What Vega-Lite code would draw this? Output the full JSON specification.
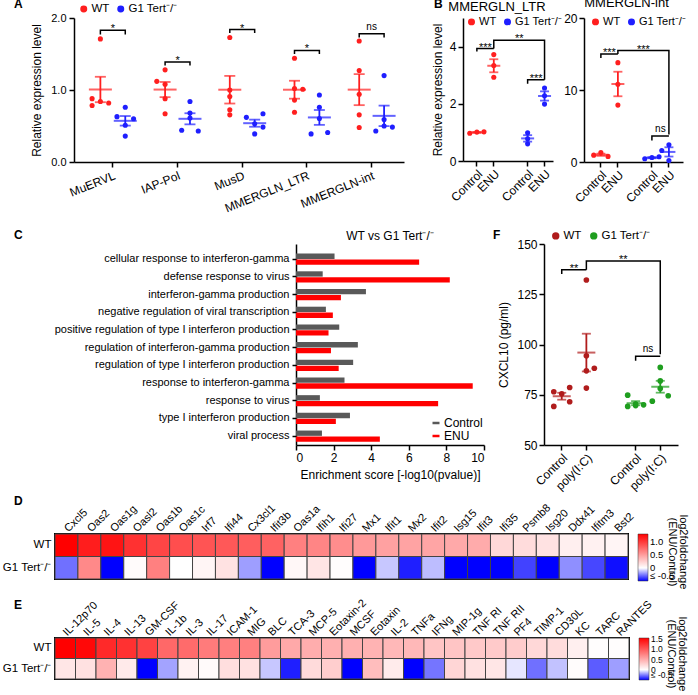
{
"$schema":"https://vega.github.io/schema/vega-lite/v6.json",
"background":"white",
"padding":{"left":1,"top":-3,"right":0,"bottom":0},
"config":{
 "font":"Liberation Sans",
 "view":{"stroke":null},
 "axis":{"grid":false,"domainColor":"black","tickColor":"black","labelColor":"black","titleColor":"black","labelFont":"Liberation Sans","titleFont":"Liberation Sans","labelFontSize":11,"titleFontSize":12,"titleFontWeight":"normal","domainWidth":1.5,"tickWidth":1.5,"tickSize":4,"labelPadding":2,"titlePadding":5},
 "legend":{"labelFont":"Liberation Sans","titleFont":"Liberation Sans","labelColor":"black","titleColor":"black","labelOverlap":false},
 "title":{"font":"Liberation Sans","fontSize":12,"fontWeight":"bold","color":"black","anchor":"start","baseline":"alphabetic","frame":"group"}
},
"datasets":{
 "A":[
  {"te":"MuERVL","grp":"WT","slot":"WT-C","v":1.71},{"te":"MuERVL","grp":"WT","slot":"WT-L","v":0.88},{"te":"MuERVL","grp":"WT","slot":"WT-C","v":0.84},{"te":"MuERVL","grp":"WT","slot":"WT-R","v":0.82},{"te":"MuERVL","grp":"WT","slot":"WT-L","v":0.785},
  {"te":"MuERVL","grp":"G1 Tert⁻/⁻","slot":"G1-C","v":0.76},{"te":"MuERVL","grp":"G1 Tert⁻/⁻","slot":"G1-L","v":0.63},{"te":"MuERVL","grp":"G1 Tert⁻/⁻","slot":"G1-R","v":0.6},{"te":"MuERVL","grp":"G1 Tert⁻/⁻","slot":"G1-C","v":0.51},{"te":"MuERVL","grp":"G1 Tert⁻/⁻","slot":"G1-C","v":0.36},
  {"te":"IAP-Pol","grp":"WT","slot":"WT-C","v":1.28},{"te":"IAP-Pol","grp":"WT","slot":"WT-L","v":1.12},{"te":"IAP-Pol","grp":"WT","slot":"WT-C","v":1.08},{"te":"IAP-Pol","grp":"WT","slot":"WT-C","v":0.88},{"te":"IAP-Pol","grp":"WT","slot":"WT-C","v":0.67},
  {"te":"IAP-Pol","grp":"G1 Tert⁻/⁻","slot":"G1-C","v":0.84},{"te":"IAP-Pol","grp":"G1 Tert⁻/⁻","slot":"G1-C","v":0.68},{"te":"IAP-Pol","grp":"G1 Tert⁻/⁻","slot":"G1-C","v":0.61},{"te":"IAP-Pol","grp":"G1 Tert⁻/⁻","slot":"G1-L","v":0.44},{"te":"IAP-Pol","grp":"G1 Tert⁻/⁻","slot":"G1-R","v":0.43},
  {"te":"MusD","grp":"WT","slot":"WT-C","v":1.73},{"te":"MusD","grp":"WT","slot":"WT-C","v":1.0},{"te":"MusD","grp":"WT","slot":"WT-C","v":0.91},{"te":"MusD","grp":"WT","slot":"WT-C","v":0.725},{"te":"MusD","grp":"WT","slot":"WT-C","v":0.655},
  {"te":"MusD","grp":"G1 Tert⁻/⁻","slot":"G1-R","v":0.67},{"te":"MusD","grp":"G1 Tert⁻/⁻","slot":"G1-L","v":0.62},{"te":"MusD","grp":"G1 Tert⁻/⁻","slot":"G1-C","v":0.53},{"te":"MusD","grp":"G1 Tert⁻/⁻","slot":"G1-R","v":0.485},{"te":"MusD","grp":"G1 Tert⁻/⁻","slot":"G1-C","v":0.39},
  {"te":"MMERGLN_LTR","grp":"WT","slot":"WT-C","v":1.44},{"te":"MMERGLN_LTR","grp":"WT","slot":"WT-C","v":1.02},{"te":"MMERGLN_LTR","grp":"WT","slot":"WT-R","v":1.01},{"te":"MMERGLN_LTR","grp":"WT","slot":"WT-C","v":0.86},{"te":"MMERGLN_LTR","grp":"WT","slot":"WT-C","v":0.69},
  {"te":"MMERGLN_LTR","grp":"G1 Tert⁻/⁻","slot":"G1-C","v":0.93},{"te":"MMERGLN_LTR","grp":"G1 Tert⁻/⁻","slot":"G1-C","v":0.76},{"te":"MMERGLN_LTR","grp":"G1 Tert⁻/⁻","slot":"G1-C","v":0.605},{"te":"MMERGLN_LTR","grp":"G1 Tert⁻/⁻","slot":"G1-L","v":0.39},{"te":"MMERGLN_LTR","grp":"G1 Tert⁻/⁻","slot":"G1-R","v":0.41},
  {"te":"MMERGLN-int","grp":"WT","slot":"WT-C","v":1.68},{"te":"MMERGLN-int","grp":"WT","slot":"WT-C","v":1.27},{"te":"MMERGLN-int","grp":"WT","slot":"WT-C","v":0.94},{"te":"MMERGLN-int","grp":"WT","slot":"WT-C","v":0.655},{"te":"MMERGLN-int","grp":"WT","slot":"WT-C","v":0.48},
  {"te":"MMERGLN-int","grp":"G1 Tert⁻/⁻","slot":"G1-C","v":1.2},{"te":"MMERGLN-int","grp":"G1 Tert⁻/⁻","slot":"G1-C","v":0.59},{"te":"MMERGLN-int","grp":"G1 Tert⁻/⁻","slot":"G1-C","v":0.5},{"te":"MMERGLN-int","grp":"G1 Tert⁻/⁻","slot":"G1-L","v":0.43},{"te":"MMERGLN-int","grp":"G1 Tert⁻/⁻","slot":"G1-R","v":0.485}
 ],
 "Abr":[
  {"id":"a1","te":"MuERVL","slot":"WT-C","y":1.77,"o":1},{"id":"a1","te":"MuERVL","slot":"WT-C","y":1.83,"o":2},{"id":"a1","te":"MuERVL","slot":"G1-C","y":1.83,"o":3},{"id":"a1","te":"MuERVL","slot":"G1-C","y":1.77,"o":4},
  {"id":"a2","te":"IAP-Pol","slot":"WT-C","y":1.34,"o":1},{"id":"a2","te":"IAP-Pol","slot":"WT-C","y":1.39,"o":2},{"id":"a2","te":"IAP-Pol","slot":"G1-C","y":1.39,"o":3},{"id":"a2","te":"IAP-Pol","slot":"G1-C","y":1.34,"o":4},
  {"id":"a3","te":"MusD","slot":"WT-C","y":1.79,"o":1},{"id":"a3","te":"MusD","slot":"WT-C","y":1.84,"o":2},{"id":"a3","te":"MusD","slot":"G1-C","y":1.84,"o":3},{"id":"a3","te":"MusD","slot":"G1-C","y":1.79,"o":4},
  {"id":"a4","te":"MMERGLN_LTR","slot":"WT-C","y":1.5,"o":1},{"id":"a4","te":"MMERGLN_LTR","slot":"WT-C","y":1.55,"o":2},{"id":"a4","te":"MMERGLN_LTR","slot":"G1-C","y":1.55,"o":3},{"id":"a4","te":"MMERGLN_LTR","slot":"G1-C","y":1.5,"o":4},
  {"id":"a5","te":"MMERGLN-int","slot":"WT-C","y":1.73,"o":1},{"id":"a5","te":"MMERGLN-int","slot":"WT-C","y":1.78,"o":2},{"id":"a5","te":"MMERGLN-int","slot":"G1-C","y":1.78,"o":3},{"id":"a5","te":"MMERGLN-int","slot":"G1-C","y":1.73,"o":4}
 ],
 "Atx":[
  {"te":"MuERVL","lab":"*","y":1.83},{"te":"IAP-Pol","lab":"*","y":1.39},{"te":"MusD","lab":"*","y":1.84},{"te":"MMERGLN_LTR","lab":"*","y":1.55},{"te":"MMERGLN-int","lab":"ns","y":1.8}
 ],
 "B1":[
  {"cond":"WT|Control","grp":"WT","slot":"L","v":0.97},{"cond":"WT|Control","grp":"WT","slot":"C","v":1.01},{"cond":"WT|Control","grp":"WT","slot":"R","v":1.02},
  {"cond":"WT|ENU","grp":"WT","slot":"C","v":3.72},{"cond":"WT|ENU","grp":"WT","slot":"C","v":3.34},{"cond":"WT|ENU","grp":"WT","slot":"C","v":2.93},
  {"cond":"G1|Control","grp":"G1 Tert⁻/⁻","slot":"C","v":0.99},{"cond":"G1|Control","grp":"G1 Tert⁻/⁻","slot":"C","v":0.78},{"cond":"G1|Control","grp":"G1 Tert⁻/⁻","slot":"C","v":0.6},
  {"cond":"G1|ENU","grp":"G1 Tert⁻/⁻","slot":"C","v":2.55},{"cond":"G1|ENU","grp":"G1 Tert⁻/⁻","slot":"C","v":2.28},{"cond":"G1|ENU","grp":"G1 Tert⁻/⁻","slot":"C","v":1.99}
 ],
 "B1br":[
  {"id":"b1","cond":"WT|Control","y":3.83,"o":1},{"id":"b1","cond":"WT|Control","y":3.93,"o":2},{"id":"b1","cond":"WT|ENU","y":3.93,"o":3},
  {"id":"b2","cond":"WT|ENU","y":3.93,"o":1},{"id":"b2","cond":"WT|ENU","y":4.22,"o":2},{"id":"b2","cond":"G1|ENU","y":4.22,"o":3},{"id":"b2","cond":"G1|ENU","y":2.84,"o":4},
  {"id":"b3","cond":"G1|Control","y":2.7,"o":1},{"id":"b3","cond":"G1|Control","y":2.84,"o":2},{"id":"b3","cond":"G1|ENU","y":2.84,"o":3}
 ],
 "B1tx":[
  {"cond":"WT|Control","lab":"***","y":3.93},{"cond":"gap","lab":"**","y":4.22},{"cond":"G1|Control","lab":"***","y":2.84}
 ],
 "B2":[
  {"cond":"WT|Control","grp":"WT","slot":"C","v":1.32},{"cond":"WT|Control","grp":"WT","slot":"L","v":0.95},{"cond":"WT|Control","grp":"WT","slot":"R","v":0.78},
  {"cond":"WT|ENU","grp":"WT","slot":"C","v":13.8},{"cond":"WT|ENU","grp":"WT","slot":"C","v":10.8},{"cond":"WT|ENU","grp":"WT","slot":"C","v":7.9},
  {"cond":"G1|Control","grp":"G1 Tert⁻/⁻","slot":"R","v":0.72},{"cond":"G1|Control","grp":"G1 Tert⁻/⁻","slot":"C","v":0.62},{"cond":"G1|Control","grp":"G1 Tert⁻/⁻","slot":"L","v":0.45},
  {"cond":"G1|ENU","grp":"G1 Tert⁻/⁻","slot":"C","v":2.4},{"cond":"G1|ENU","grp":"G1 Tert⁻/⁻","slot":"L","v":1.6},{"cond":"G1|ENU","grp":"G1 Tert⁻/⁻","slot":"C","v":0.2}
 ],
 "B2br":[
  {"id":"c1","cond":"WT|Control","y":14.46,"o":1},{"id":"c1","cond":"WT|Control","y":15.0,"o":2},{"id":"c1","cond":"WT|ENU","y":15.0,"o":3},
  {"id":"c2","cond":"WT|ENU","y":15.0,"o":1},{"id":"c2","cond":"WT|ENU","y":15.47,"o":2},{"id":"c2","cond":"G1|ENU","y":15.47,"o":3},{"id":"c2","cond":"G1|ENU","y":3.83,"o":4},
  {"id":"c3","cond":"G1|Control","y":3.0,"o":1},{"id":"c3","cond":"G1|Control","y":3.6,"o":2},{"id":"c3","cond":"G1|ENU","y":3.6,"o":3}
 ],
 "B2tx":[
  {"cond":"WT|Control","lab":"***","y":15.0},{"cond":"gap","lab":"***","y":15.47},{"cond":"G1|Control","lab":"ns","y":4.0}
 ],
 "C":[
  {"term":"cellular response to interferon-gamma","s":"Control","v":2.05},{"term":"cellular response to interferon-gamma","s":"ENU","v":6.55},
  {"term":"defense response to virus","s":"Control","v":1.42},{"term":"defense response to virus","s":"ENU","v":8.18},
  {"term":"interferon-gamma production","s":"Control","v":3.72},{"term":"interferon-gamma production","s":"ENU","v":2.39},
  {"term":"negative regulation of viral transcription","s":"Control","v":1.59},{"term":"negative regulation of viral transcription","s":"ENU","v":1.96},
  {"term":"positive regulation of type I interferon production","s":"Control","v":2.3},{"term":"positive regulation of type I interferon production","s":"ENU","v":1.73},
  {"term":"regulation of interferon-gamma production","s":"Control","v":3.29},{"term":"regulation of interferon-gamma production","s":"ENU","v":1.86},
  {"term":"regulation of type I interferon production","s":"Control","v":3.04},{"term":"regulation of type I interferon production","s":"ENU","v":2.27},
  {"term":"response to interferon-gamma","s":"Control","v":2.58},{"term":"response to interferon-gamma","s":"ENU","v":9.4},
  {"term":"response to virus","s":"Control","v":1.27},{"term":"response to virus","s":"ENU","v":7.56},
  {"term":"type I interferon production","s":"Control","v":2.87},{"term":"type I interferon production","s":"ENU","v":2.12},
  {"term":"viral process","s":"Control","v":1.38},{"term":"viral process","s":"ENU","v":4.46}
 ],
 "F":[
  {"cond":"WT|Control","grp":"WT","slot":"L","v":76.5},{"cond":"WT|Control","grp":"WT","slot":"R","v":78.6},{"cond":"WT|Control","grp":"WT","slot":"L","v":69.2},{"cond":"WT|Control","grp":"WT","slot":"R","v":71.5},{"cond":"WT|Control","grp":"WT","slot":"C","v":75.5},
  {"cond":"WT|poly","grp":"WT","slot":"C","v":132.1},{"cond":"WT|poly","grp":"WT","slot":"C","v":94.4},{"cond":"WT|poly","grp":"WT","slot":"R","v":88.2},{"cond":"WT|poly","grp":"WT","slot":"C","v":86.9},{"cond":"WT|poly","grp":"WT","slot":"C","v":78.3},
  {"cond":"G1|Control","grp":"G1 Tert⁻/⁻","slot":"L","v":74.8},{"cond":"G1|Control","grp":"G1 Tert⁻/⁻","slot":"L","v":69.2},{"cond":"G1|Control","grp":"G1 Tert⁻/⁻","slot":"C","v":70.4},{"cond":"G1|Control","grp":"G1 Tert⁻/⁻","slot":"R","v":70.0},{"cond":"G1|Control","grp":"G1 Tert⁻/⁻","slot":"C","v":69.6},
  {"cond":"G1|poly","grp":"G1 Tert⁻/⁻","slot":"C","v":88.6},{"cond":"G1|poly","grp":"G1 Tert⁻/⁻","slot":"C","v":81.9},{"cond":"G1|poly","grp":"G1 Tert⁻/⁻","slot":"C","v":78.1},{"cond":"G1|poly","grp":"G1 Tert⁻/⁻","slot":"L","v":71.8},{"cond":"G1|poly","grp":"G1 Tert⁻/⁻","slot":"R","v":74.5}
 ],
 "Fbr":[
  {"id":"f1","cond":"WT|Control","y":135.1,"o":1},{"id":"f1","cond":"WT|Control","y":137.2,"o":2},{"id":"f1","cond":"WT|poly","y":137.2,"o":3},
  {"id":"f2","cond":"WT|poly","y":137.2,"o":1},{"id":"f2","cond":"WT|poly","y":141.6,"o":2},{"id":"f2","cond":"G1|poly","y":141.6,"o":3},{"id":"f2","cond":"G1|poly","y":95.2,"o":4},
  {"id":"f3","cond":"G1|Control","y":91.9,"o":1},{"id":"f3","cond":"G1|Control","y":94.2,"o":2},{"id":"f3","cond":"G1|poly","y":94.2,"o":3}
 ],
 "Ftx":[
  {"cond":"WT|Control","lab":"**","y":137.2},{"cond":"gap","lab":"**","y":141.6},{"cond":"G1|Control","lab":"ns","y":95.6}
 ],
 "D":[
  {"g":"Cxcl5","r":"WT","v":1.3},{"g":"Oas2","r":"WT","v":1.15},{"g":"Oas1g","r":"WT","v":1.2},{"g":"Oasl2","r":"WT","v":1.05},{"g":"Oas1b","r":"WT","v":0.95},{"g":"Oas1c","r":"WT","v":0.9},{"g":"Irf7","r":"WT","v":0.87},{"g":"Ifi44","r":"WT","v":0.85},{"g":"Cx3cl1","r":"WT","v":0.82},{"g":"Ifit3b","r":"WT","v":0.8},{"g":"Oas1a","r":"WT","v":0.65},{"g":"Ifih1","r":"WT","v":0.62},{"g":"Ifi27","r":"WT","v":0.58},{"g":"Mx1","r":"WT","v":0.52},{"g":"Ifit1","r":"WT","v":0.48},{"g":"Mx2","r":"WT","v":0.47},{"g":"Ifit2","r":"WT","v":0.46},{"g":"Isg15","r":"WT","v":0.44},{"g":"Ifit3","r":"WT","v":0.43},{"g":"Ifi35","r":"WT","v":0.2},{"g":"Psmb8","r":"WT","v":0.18},{"g":"Isg20","r":"WT","v":0.15},{"g":"Ddx41","r":"WT","v":0.08},{"g":"Ifitm3","r":"WT","v":0.07},{"g":"Bst2","r":"WT","v":0.05},
  {"g":"Cxcl5","r":"G1 Tert⁻/⁻","v":-0.28},{"g":"Oas2","r":"G1 Tert⁻/⁻","v":0.6},{"g":"Oas1g","r":"G1 Tert⁻/⁻","v":-0.5},{"g":"Oasl2","r":"G1 Tert⁻/⁻","v":0.02},{"g":"Oas1b","r":"G1 Tert⁻/⁻","v":0.65},{"g":"Oas1c","r":"G1 Tert⁻/⁻","v":0.0},{"g":"Irf7","r":"G1 Tert⁻/⁻","v":0.05},{"g":"Ifi44","r":"G1 Tert⁻/⁻","v":0.15},{"g":"Cx3cl1","r":"G1 Tert⁻/⁻","v":-0.19},{"g":"Ifit3b","r":"G1 Tert⁻/⁻","v":-0.5},{"g":"Oas1a","r":"G1 Tert⁻/⁻","v":0.04},{"g":"Ifih1","r":"G1 Tert⁻/⁻","v":0.13},{"g":"Ifi27","r":"G1 Tert⁻/⁻","v":0.01},{"g":"Mx1","r":"G1 Tert⁻/⁻","v":-0.5},{"g":"Ifit1","r":"G1 Tert⁻/⁻","v":-0.11},{"g":"Mx2","r":"G1 Tert⁻/⁻","v":-0.44},{"g":"Ifit2","r":"G1 Tert⁻/⁻","v":-0.13},{"g":"Isg15","r":"G1 Tert⁻/⁻","v":-0.5},{"g":"Ifit3","r":"G1 Tert⁻/⁻","v":-0.5},{"g":"Ifi35","r":"G1 Tert⁻/⁻","v":-0.5},{"g":"Psmb8","r":"G1 Tert⁻/⁻","v":-0.37},{"g":"Isg20","r":"G1 Tert⁻/⁻","v":-0.5},{"g":"Ddx41","r":"G1 Tert⁻/⁻","v":-0.22},{"g":"Ifitm3","r":"G1 Tert⁻/⁻","v":-0.36},{"g":"Bst2","r":"G1 Tert⁻/⁻","v":-0.47}
 ],
 "E":[
  {"g":"IL-12p70","r":"WT","v":1.55},{"g":"IL-5","r":"WT","v":1.5},{"g":"IL-4","r":"WT","v":1.3},{"g":"IL-13","r":"WT","v":1.25},{"g":"GM-CSF","r":"WT","v":1.15},{"g":"IL-1b","r":"WT","v":0.92},{"g":"IL-3","r":"WT","v":0.9},{"g":"IL-17","r":"WT","v":0.8},{"g":"ICAM-1","r":"WT","v":0.78},{"g":"MIG","r":"WT","v":0.77},{"g":"BLC","r":"WT","v":0.6},{"g":"TCA-3","r":"WT","v":0.52},{"g":"MCP-5","r":"WT","v":0.5},{"g":"Eotaxin-2","r":"WT","v":0.48},{"g":"MCSF","r":"WT","v":0.48},{"g":"Eotaxin","r":"WT","v":0.46},{"g":"IL-2","r":"WT","v":0.43},{"g":"TNFa","r":"WT","v":0.43},{"g":"IFNg","r":"WT","v":0.35},{"g":"MIP-1g","r":"WT","v":0.35},{"g":"TNF RI","r":"WT","v":0.33},{"g":"TNF RII","r":"WT","v":0.32},{"g":"PF4","r":"WT","v":0.31},{"g":"TIMP-1","r":"WT","v":0.24},{"g":"CD30L","r":"WT","v":0.21},{"g":"KC","r":"WT","v":0.1},{"g":"TARC","r":"WT","v":0.01},{"g":"RANTES","r":"WT","v":0.01},
  {"g":"IL-12p70","r":"G1 Tert⁻/⁻","v":0.15},{"g":"IL-5","r":"G1 Tert⁻/⁻","v":0.18},{"g":"IL-4","r":"G1 Tert⁻/⁻","v":0.47},{"g":"IL-13","r":"G1 Tert⁻/⁻","v":0.13},{"g":"GM-CSF","r":"G1 Tert⁻/⁻","v":-0.5},{"g":"IL-1b","r":"G1 Tert⁻/⁻","v":-0.18},{"g":"IL-3","r":"G1 Tert⁻/⁻","v":0.08},{"g":"IL-17","r":"G1 Tert⁻/⁻","v":0.03},{"g":"ICAM-1","r":"G1 Tert⁻/⁻","v":0.2},{"g":"MIG","r":"G1 Tert⁻/⁻","v":0.18},{"g":"BLC","r":"G1 Tert⁻/⁻","v":-0.11},{"g":"TCA-3","r":"G1 Tert⁻/⁻","v":-0.44},{"g":"MCP-5","r":"G1 Tert⁻/⁻","v":0.22},{"g":"Eotaxin-2","r":"G1 Tert⁻/⁻","v":0.3},{"g":"MCSF","r":"G1 Tert⁻/⁻","v":-0.5},{"g":"Eotaxin","r":"G1 Tert⁻/⁻","v":0.4},{"g":"IL-2","r":"G1 Tert⁻/⁻","v":0.12},{"g":"TNFa","r":"G1 Tert⁻/⁻","v":-0.5},{"g":"IFNg","r":"G1 Tert⁻/⁻","v":-0.27},{"g":"MIP-1g","r":"G1 Tert⁻/⁻","v":0.25},{"g":"TNF RI","r":"G1 Tert⁻/⁻","v":0.18},{"g":"TNF RII","r":"G1 Tert⁻/⁻","v":0.15},{"g":"PF4","r":"G1 Tert⁻/⁻","v":-0.05},{"g":"TIMP-1","r":"G1 Tert⁻/⁻","v":-0.28},{"g":"CD30L","r":"G1 Tert⁻/⁻","v":-0.12},{"g":"KC","r":"G1 Tert⁻/⁻","v":0.02},{"g":"TARC","r":"G1 Tert⁻/⁻","v":-0.32},{"g":"RANTES","r":"G1 Tert⁻/⁻","v":-0.19}
 ]
},
"spacing":516,
"bounds":"flush",
"resolve":{"scale":{"color":"independent","xOffset":"independent","yOffset":"independent"},"legend":{"color":"independent"}},
"vconcat":[
 {"spacing":226,"bounds":"flush",
  "resolve":{"scale":{"color":"independent","xOffset":"independent","yOffset":"independent"},"legend":{"color":"independent"}},
  "vconcat":[
   {"spacing":0,"bounds":"flush",
    "resolve":{"scale":{"color":"independent","xOffset":"independent","yOffset":"independent"},"legend":{"color":"independent"}},
    "hconcat":[
     {"width":19,"height":1,"title":{"text":"A","dx":-41,"offset":5},"data":{"values":[{}]},"mark":{"type":"point","opacity":0}},
     {"width":330,"height":144,
      "layer":[
       {"data":{"name":"A"},"mark":{"type":"circle","size":26,"opacity":1},
        "encoding":{
         "x":{"field":"te","type":"nominal","scale":{"domain":["MuERVL","IAP-Pol","MusD","MMERGLN_LTR","MMERGLN-int"],"paddingInner":0,"paddingOuter":0.05,"align":1},"axis":{"title":null,"labelAngle":-22,"labelAlign":"right","labelBaseline":"top","labelFontSize":12,"tickSize":5,"labelPadding":3}},
         "xOffset":{"field":"slot","type":"nominal","scale":{"domain":["WT-L","WT-C","WT-R","G1-L","G1-C","G1-R"],"paddingInner":0,"paddingOuter":0.9}},
         "y":{"field":"v","type":"quantitative","scale":{"domain":[0,2],"nice":false},"axis":{"title":"Relative expression level","values":[0,0.5,1,1.5,2],"format":".1f","labelFontSize":11,"titleFontSize":12,"tickSize":5,"labelPadding":3,"titlePadding":7}},
         "color":{"field":"grp","type":"nominal","scale":{"domain":["WT","G1 Tert⁻/⁻"],"range":["#ff1f1f","#1f1fff"]},"legend":{"title":null,"orient":"none","legendX":4,"legendY":-15,"direction":"horizontal","symbolType":"circle","symbolSize":30,"labelFontSize":11.5,"columnPadding":5,"labelOffset":2}}
        }},
       {"data":{"name":"A"},
        "transform":[{"aggregate":[{"op":"mean","field":"v","as":"m"},{"op":"stderr","field":"v","as":"se"}],"groupby":["te","grp"]},{"calculate":"datum.m - datum.se","as":"lo"},{"calculate":"datum.m + datum.se","as":"hi"},{"calculate":"datum.grp == 'WT' ? 'WT-C' : 'G1-C'","as":"c"}],
        "layer":[
         {"mark":{"type":"rule","strokeWidth":1.8},"encoding":{"x":{"field":"te","type":"nominal"},"xOffset":{"field":"c","type":"nominal"},"y":{"field":"lo","type":"quantitative"},"y2":{"field":"hi"},"color":{"field":"grp","type":"nominal"}}},
         {"mark":{"type":"tick","size":23,"thickness":2},"encoding":{"x":{"field":"te","type":"nominal"},"xOffset":{"field":"c","type":"nominal"},"y":{"field":"m","type":"quantitative"},"color":{"field":"grp","type":"nominal"}}},
         {"mark":{"type":"tick","size":11,"thickness":1.8},"encoding":{"x":{"field":"te","type":"nominal"},"xOffset":{"field":"c","type":"nominal"},"y":{"field":"lo","type":"quantitative"},"color":{"field":"grp","type":"nominal"}}},
         {"mark":{"type":"tick","size":11,"thickness":1.8},"encoding":{"x":{"field":"te","type":"nominal"},"xOffset":{"field":"c","type":"nominal"},"y":{"field":"hi","type":"quantitative"},"color":{"field":"grp","type":"nominal"}}}
        ]},
       {"data":{"name":"Abr"},"mark":{"type":"line","color":"black","strokeWidth":1.5},"encoding":{"x":{"field":"te","type":"nominal"},"xOffset":{"field":"slot","type":"nominal"},"y":{"field":"y","type":"quantitative"},"detail":{"field":"id","type":"nominal"},"order":{"field":"o","type":"quantitative"}}},
       {"data":{"name":"Atx"},"transform":[{"filter":"datum.lab != 'ns'"}],"mark":{"type":"text","fontSize":11,"baseline":"alphabetic","dy":2,"color":"black"},"encoding":{"x":{"field":"te","type":"nominal"},"y":{"field":"y","type":"quantitative"},"text":{"field":"lab"}}},
       {"data":{"name":"Atx"},"transform":[{"filter":"datum.lab == 'ns'"}],"mark":{"type":"text","fontSize":10,"baseline":"alphabetic","dy":-2,"color":"black"},"encoding":{"x":{"field":"te","type":"nominal"},"y":{"field":"y","type":"quantitative"},"text":{"field":"lab"}}}
      ]},
     {"width":59,"height":1,"title":{"text":"B","dx":30,"offset":5},"data":{"values":[{}]},"mark":{"type":"point","opacity":0}},
     {"width":90,"height":143,
      "title":{"text":"MMERGLN_LTR","anchor":"middle","fontSize":13,"fontWeight":"normal","offset":2,"dx":-11},
      "layer":[
       {"data":{"name":"B1"},"mark":{"type":"circle","size":26,"opacity":1},
        "encoding":{
         "x":{"field":"cond","type":"nominal","scale":{"domain":["WT|Control","WT|ENU","gap","G1|Control","G1|ENU"],"paddingInner":0,"paddingOuter":0.16,"align":1},"axis":{"title":null,"values":["WT|Control","WT|ENU","G1|Control","G1|ENU"],"labelExpr":"split(datum.value,'|')[1]","labelAngle":-45,"labelAlign":"right","labelBaseline":"top","labelFontSize":12,"tickSize":5}},
         "xOffset":{"field":"slot","type":"nominal","scale":{"domain":["L","C","R"],"paddingInner":0,"paddingOuter":0.19}},
         "y":{"field":"v","type":"quantitative","scale":{"domain":[0,5],"nice":false},"axis":{"title":"Relative expression level","values":[0,1,2,3,4,5],"labelFontSize":12,"tickSize":5,"titlePadding":5}},
         "color":{"field":"grp","type":"nominal","scale":{"domain":["WT","G1 Tert⁻/⁻"],"range":["#ff1f1f","#1f1fff"]},"legend":{"title":null,"orient":"none","legendX":3,"legendY":-2,"direction":"horizontal","symbolType":"circle","symbolSize":30,"labelFontSize":11,"columnPadding":4,"labelOffset":2}}
        }},
       {"data":{"name":"B1"},
        "transform":[{"aggregate":[{"op":"mean","field":"v","as":"m"},{"op":"stderr","field":"v","as":"se"}],"groupby":["cond","grp"]},{"calculate":"datum.m - datum.se","as":"lo"},{"calculate":"datum.m + datum.se","as":"hi"}],
        "layer":[
         {"mark":{"type":"rule","strokeWidth":1.8},"encoding":{"x":{"field":"cond","type":"nominal"},"y":{"field":"lo","type":"quantitative"},"y2":{"field":"hi"},"color":{"field":"grp","type":"nominal"}}},
         {"mark":{"type":"tick","size":13,"thickness":2},"encoding":{"x":{"field":"cond","type":"nominal"},"y":{"field":"m","type":"quantitative"},"color":{"field":"grp","type":"nominal"}}},
         {"mark":{"type":"tick","size":9,"thickness":1.8},"encoding":{"x":{"field":"cond","type":"nominal"},"y":{"field":"lo","type":"quantitative"},"color":{"field":"grp","type":"nominal"}}},
         {"mark":{"type":"tick","size":9,"thickness":1.8},"encoding":{"x":{"field":"cond","type":"nominal"},"y":{"field":"hi","type":"quantitative"},"color":{"field":"grp","type":"nominal"}}}
        ]},
       {"data":{"name":"B1br"},"mark":{"type":"line","color":"black","strokeWidth":1.5},"encoding":{"x":{"field":"cond","type":"nominal"},"y":{"field":"y","type":"quantitative"},"detail":{"field":"id","type":"nominal"},"order":{"field":"o","type":"quantitative"}}},
       {"data":{"name":"B1tx"},"mark":{"type":"text","fontSize":11,"baseline":"alphabetic","dy":2,"dx":8.45,"color":"black"},"encoding":{"x":{"field":"cond","type":"nominal"},"y":{"field":"y","type":"quantitative"},"text":{"field":"lab"}}}
      ]},
     {"width":31,"height":1,"data":{"values":[{}]},"mark":{"type":"point","opacity":0}},
     {"width":99,"height":144,
      "title":{"text":"MMERGLN-int","anchor":"middle","fontSize":13,"fontWeight":"normal","offset":2,"dx":-7},
      "layer":[
       {"data":{"name":"B2"},"mark":{"type":"circle","size":26,"opacity":1},
        "encoding":{
         "x":{"field":"cond","type":"nominal","scale":{"domain":["WT|Control","WT|ENU","gap","G1|Control","G1|ENU"],"paddingInner":0,"paddingOuter":0.41,"align":0.6},"axis":{"title":null,"values":["WT|Control","WT|ENU","G1|Control","G1|ENU"],"labelExpr":"split(datum.value,'|')[1]","labelAngle":-45,"labelAlign":"right","labelBaseline":"top","labelFontSize":12,"tickSize":5}},
         "xOffset":{"field":"slot","type":"nominal","scale":{"domain":["L","C","R"],"paddingInner":0,"paddingOuter":0.19}},
         "y":{"field":"v","type":"quantitative","scale":{"domain":[0,20],"nice":false},"axis":{"title":null,"values":[0,5,10,15,20],"labelFontSize":12,"tickSize":5}},
         "color":{"field":"grp","type":"nominal","scale":{"domain":["WT","G1 Tert⁻/⁻"],"range":["#ff1f1f","#1f1fff"]},"legend":{"title":null,"orient":"none","legendX":6,"legendY":-2,"direction":"horizontal","symbolType":"circle","symbolSize":30,"labelFontSize":11,"columnPadding":4,"labelOffset":2}}
        }},
       {"data":{"name":"B2"},
        "transform":[{"aggregate":[{"op":"mean","field":"v","as":"m"},{"op":"stderr","field":"v","as":"se"}],"groupby":["cond","grp"]},{"calculate":"datum.m - datum.se","as":"lo"},{"calculate":"datum.m + datum.se","as":"hi"}],
        "layer":[
         {"mark":{"type":"rule","strokeWidth":1.8},"encoding":{"x":{"field":"cond","type":"nominal"},"y":{"field":"lo","type":"quantitative"},"y2":{"field":"hi"},"color":{"field":"grp","type":"nominal"}}},
         {"mark":{"type":"tick","size":13,"thickness":2},"encoding":{"x":{"field":"cond","type":"nominal"},"y":{"field":"m","type":"quantitative"},"color":{"field":"grp","type":"nominal"}}},
         {"mark":{"type":"tick","size":9,"thickness":1.8},"encoding":{"x":{"field":"cond","type":"nominal"},"y":{"field":"lo","type":"quantitative"},"color":{"field":"grp","type":"nominal"}}},
         {"mark":{"type":"tick","size":9,"thickness":1.8},"encoding":{"x":{"field":"cond","type":"nominal"},"y":{"field":"hi","type":"quantitative"},"color":{"field":"grp","type":"nominal"}}}
        ]},
       {"data":{"name":"B2br"},"mark":{"type":"line","color":"black","strokeWidth":1.5},"encoding":{"x":{"field":"cond","type":"nominal"},"y":{"field":"y","type":"quantitative"},"detail":{"field":"id","type":"nominal"},"order":{"field":"o","type":"quantitative"}}},
       {"data":{"name":"B2tx"},"transform":[{"filter":"datum.lab != 'ns'"}],"mark":{"type":"text","fontSize":11,"baseline":"alphabetic","dy":2,"dx":8.5,"color":"black"},"encoding":{"x":{"field":"cond","type":"nominal"},"y":{"field":"y","type":"quantitative"},"text":{"field":"lab"}}},
       {"data":{"name":"B2tx"},"transform":[{"filter":"datum.lab == 'ns'"}],"mark":{"type":"text","fontSize":10,"baseline":"alphabetic","dy":-1,"dx":8.5,"color":"black"},"encoding":{"x":{"field":"cond","type":"nominal"},"y":{"field":"y","type":"quantitative"},"text":{"field":"lab"}}}
      ]}
    ]},
   {"spacing":0,"bounds":"flush",
    "resolve":{"scale":{"color":"independent","xOffset":"independent","yOffset":"independent"},"legend":{"color":"independent"}},
    "hconcat":[
     {"width":241,"height":1,"title":{"text":"C","dx":-41,"offset":0},"data":{"values":[{}]},"mark":{"type":"point","opacity":0}},
     {"width":188,"height":201,
      "title":{"text":"WT vs G1 Tert⁻/⁻","anchor":"middle","fontSize":12,"fontWeight":"normal","offset":1},
      "data":{"name":"C"},
      "mark":{"type":"bar"},
      "encoding":{
       "y":{"field":"term","type":"nominal","scale":{"domain":["cellular response to interferon-gamma","defense response to virus","interferon-gamma production","negative regulation of viral transcription","positive regulation of type I interferon production","regulation of interferon-gamma production","regulation of type I interferon production","response to interferon-gamma","response to virus","type I interferon production","viral process"],"paddingInner":0,"paddingOuter":0.18,"align":1},"axis":{"title":null,"labelFontSize":11,"labelLimit":0,"tickSize":4,"labelPadding":3}},
       "yOffset":{"field":"s","type":"nominal","scale":{"domain":["Control","ENU"],"paddingInner":0.1,"paddingOuter":0.55}},
       "x":{"field":"v","type":"quantitative","scale":{"domain":[0,10],"nice":false},"axis":{"values":[0,2,4,6,8,10],"title":"Enrichment score [-log10(pvalue)]","labelFontSize":12,"tickSize":5,"titlePadding":6}},
       "color":{"field":"s","type":"nominal","scale":{"domain":["Control","ENU"],"range":["#595959","#ff0000"]},"legend":{"title":null,"orient":"none","legendX":134,"legendY":173,"direction":"vertical","symbolType":"M-1.4,-0.5H1.4V0.5H-1.4Z","symbolSize":25,"labelFontSize":12,"rowPadding":1,"labelOffset":2,"symbolStrokeWidth":0}}
      }},
     {"width":60,"height":1,"title":{"text":"F","dx":9,"offset":0},"data":{"values":[{}]},"mark":{"type":"point","opacity":0}},
     {"width":134,"height":201,
      "layer":[
       {"data":{"name":"F"},"mark":{"type":"circle","size":32,"opacity":1},
        "encoding":{
         "x":{"field":"cond","type":"nominal","scale":{"domain":["WT|Control","WT|poly","gap","G1|Control","G1|poly"],"paddingInner":0,"paddingOuter":0.22,"align":0.5},"axis":{"title":null,"values":["WT|Control","WT|poly","G1|Control","G1|poly"],"labelExpr":"split(datum.value,'|')[1] == 'poly' ? 'poly(I:C)' : 'Control'","labelAngle":-45,"labelAlign":"right","labelBaseline":"top","labelFontSize":12,"tickSize":5}},
         "xOffset":{"field":"slot","type":"nominal","scale":{"domain":["L","C","R"],"paddingInner":0,"paddingOuter":0.55}},
         "y":{"field":"v","type":"quantitative","scale":{"domain":[50,150],"nice":false},"axis":{"title":"CXCL10 (pg/ml)","values":[50,75,100,125,150],"labelFontSize":12,"tickSize":5,"titlePadding":6}},
         "color":{"field":"grp","type":"nominal","scale":{"domain":["WT","G1 Tert⁻/⁻"],"range":["#b01c1c","#1f9e1f"]},"legend":{"title":null,"orient":"none","legendX":6,"legendY":-14,"direction":"horizontal","symbolType":"circle","symbolSize":34,"labelFontSize":11.5,"columnPadding":5,"labelOffset":2}}
        }},
       {"data":{"name":"F"},
        "transform":[{"aggregate":[{"op":"mean","field":"v","as":"m"},{"op":"stderr","field":"v","as":"se"}],"groupby":["cond","grp"]},{"calculate":"datum.m - datum.se","as":"lo"},{"calculate":"datum.m + datum.se","as":"hi"}],
        "layer":[
         {"mark":{"type":"rule","strokeWidth":1.8},"encoding":{"x":{"field":"cond","type":"nominal"},"y":{"field":"lo","type":"quantitative"},"y2":{"field":"hi"},"color":{"field":"grp","type":"nominal"}}},
         {"mark":{"type":"tick","size":18,"thickness":2},"encoding":{"x":{"field":"cond","type":"nominal"},"y":{"field":"m","type":"quantitative"},"color":{"field":"grp","type":"nominal"}}},
         {"mark":{"type":"tick","size":9,"thickness":1.8},"encoding":{"x":{"field":"cond","type":"nominal"},"y":{"field":"lo","type":"quantitative"},"color":{"field":"grp","type":"nominal"}}},
         {"mark":{"type":"tick","size":9,"thickness":1.8},"encoding":{"x":{"field":"cond","type":"nominal"},"y":{"field":"hi","type":"quantitative"},"color":{"field":"grp","type":"nominal"}}}
        ]},
       {"data":{"name":"Fbr"},"mark":{"type":"line","color":"black","strokeWidth":1.5},"encoding":{"x":{"field":"cond","type":"nominal"},"y":{"field":"y","type":"quantitative"},"detail":{"field":"id","type":"nominal"},"order":{"field":"o","type":"quantitative"}}},
       {"data":{"name":"Ftx"},"transform":[{"filter":"datum.lab != 'ns'"}],"mark":{"type":"text","fontSize":11,"baseline":"alphabetic","dy":2,"dx":12.3,"color":"black"},"encoding":{"x":{"field":"cond","type":"nominal"},"y":{"field":"y","type":"quantitative"},"text":{"field":"lab"}}},
       {"data":{"name":"Ftx"},"transform":[{"filter":"datum.lab == 'ns'"}],"mark":{"type":"text","fontSize":10,"baseline":"alphabetic","dy":-1,"dx":12.3,"color":"black"},"encoding":{"x":{"field":"cond","type":"nominal"},"y":{"field":"y","type":"quantitative"},"text":{"field":"lab"}}}
      ]},
     {"width":1,"height":1,"title":{"text":"D","dx":-664,"offset":0,"dy":266},"data":{"values":[{}]},"mark":{"type":"point","opacity":0}}
    ]}
  ]},
 {"spacing":0,"bounds":"flush",
  "resolve":{"scale":{"color":"independent"},"legend":{"color":"independent"}},
  "vconcat":[
   {"width":573,"height":45,
    "view":{"stroke":"black","strokeWidth":2},
    "data":{"name":"D"},
    "mark":{"type":"rect","stroke":"#444444","strokeWidth":1},
    "encoding":{
     "x":{"field":"g","type":"nominal","scale":{"domain":["Cxcl5","Oas2","Oas1g","Oasl2","Oas1b","Oas1c","Irf7","Ifi44","Cx3cl1","Ifit3b","Oas1a","Ifih1","Ifi27","Mx1","Ifit1","Mx2","Ifit2","Isg15","Ifit3","Ifi35","Psmb8","Isg20","Ddx41","Ifitm3","Bst2"],"paddingInner":0,"paddingOuter":0},"axis":{"orient":"top","title":null,"labelAngle":-45,"labelAlign":"left","labelBaseline":"middle","ticks":false,"domain":false,"labelFontSize":11,"labelPadding":4}},
     "y":{"field":"r","type":"nominal","scale":{"domain":["WT","G1 Tert⁻/⁻"],"paddingInner":0,"paddingOuter":0},"axis":{"title":null,"ticks":false,"domain":false,"labelFontSize":11.5,"labelPadding":4}},
     "color":{"field":"v","type":"quantitative","scale":{"domain":[-0.5,0,1.3],"range":["#0000ff","#ffffff","#ff0000"],"clamp":true,"interpolate":"rgb"},"legend":{"title":["log2foldchange","(ENU/Control)"],"orient":"right","offset":10,"direction":"vertical","gradientLength":47,"gradientThickness":10,"values":[-0.5,0,0.5,1],"labelExpr":"datum.value <= -0.5 ? '≤ -0.5' : datum.value == 0 ? '0' : format(datum.value,'.1f')","labelFontSize":9.5,"titleOrient":"right","titleAngle":90,"titleBaseline":"bottom","titleAnchor":"middle","titleAlign":"center","titlePadding":4,"titleFontSize":11,"titleFontWeight":"normal","titleLineHeight":11,"gradientStrokeColor":"#333333","gradientStrokeWidth":0.5}}
    }},
   {"width":1,"height":59,"title":{"text":"E","dx":-41,"offset":0,"dy":33},"data":{"values":[{}]},"mark":{"type":"point","opacity":0}},
   {"width":574,"height":41,
    "view":{"stroke":"black","strokeWidth":2},
    "data":{"name":"E"},
    "mark":{"type":"rect","stroke":"#444444","strokeWidth":1},
    "encoding":{
     "x":{"field":"g","type":"nominal","scale":{"domain":["IL-12p70","IL-5","IL-4","IL-13","GM-CSF","IL-1b","IL-3","IL-17","ICAM-1","MIG","BLC","TCA-3","MCP-5","Eotaxin-2","MCSF","Eotaxin","IL-2","TNFa","IFNg","MIP-1g","TNF RI","TNF RII","PF4","TIMP-1","CD30L","KC","TARC","RANTES"],"paddingInner":0,"paddingOuter":0},"axis":{"orient":"top","title":null,"labelAngle":-45,"labelAlign":"left","labelBaseline":"middle","ticks":false,"domain":false,"labelFontSize":11,"labelPadding":4}},
     "y":{"field":"r","type":"nominal","scale":{"domain":["WT","G1 Tert⁻/⁻"],"paddingInner":0,"paddingOuter":0},"axis":{"title":null,"ticks":false,"domain":false,"labelFontSize":11.5,"labelPadding":4}},
     "color":{"field":"v","type":"quantitative","scale":{"domain":[-0.5,0,1.55],"range":["#0000ff","#ffffff","#ff0000"],"clamp":true,"interpolate":"rgb"},"legend":{"title":["log2foldchange","(ENU/Control)"],"orient":"right","offset":10,"direction":"vertical","gradientLength":42,"gradientThickness":10,"values":[-0.5,0,0.5,1,1.5],"labelExpr":"datum.value <= -0.5 ? '≤ -0.5' : datum.value == 0 ? '0' : format(datum.value,'.1f')","labelFontSize":8.5,"titleOrient":"right","titleAngle":90,"titleBaseline":"bottom","titleAnchor":"middle","titleAlign":"center","titlePadding":4,"titleFontSize":11,"titleFontWeight":"normal","titleLineHeight":11,"gradientStrokeColor":"#333333","gradientStrokeWidth":0.5}}
    }}
  ]}
]
}
